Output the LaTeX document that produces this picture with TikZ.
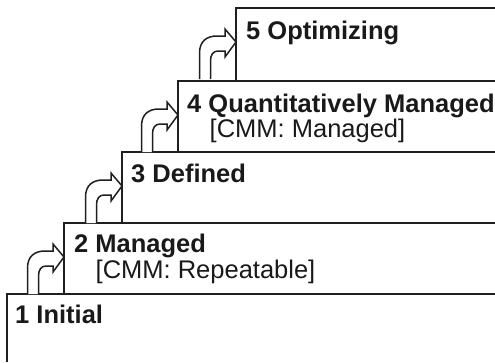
\documentclass[tikz,border=0pt]{standalone}
\usepackage{fontspec}
\setmainfont{Liberation Sans}
\begin{document}
\begin{tikzpicture}[x=1pt,y=-1pt,
  boxline/.style={line width=2.2pt, draw=black!88, line cap=butt},
  arrowline/.style={line width=1.5pt, draw=black!88, fill=white, line join=miter},
  title/.style={anchor=base west, inner sep=0pt, font=\fontsize{25.5}{30}\selectfont\bfseries, text=black!90},
  sub/.style={anchor=base west, inner sep=0pt, font=\fontsize{25.5}{30}\selectfont, text=black!90}]
\useasboundingbox (0,0) rectangle (495,362);
% box corners
\coordinate (b1) at (7,294);
\coordinate (b2) at (64,223);
\coordinate (b3) at (122,152);
\coordinate (b4) at (178,81);
\coordinate (b5) at (236,8);
% boxes
\draw[boxline] (7,362) -- (b1) -- (500,294);
\draw[boxline] (64,294) -- (b2) -- (500,223);
\draw[boxline] (122,223) -- (b3) -- (500,152);
\draw[boxline] (178,152) -- (b4) -- (500,81);
\draw[boxline] (236,81) -- (b5) -- (500,8);
% bent arrows
\foreach \L/\T in {64/223, 122/152, 178/81, 236/8}{
  \draw[arrowline, shift={(\L,\T)}]
    (-36.5,71) -- (-36.5,45) .. controls (-36.5,33) and (-29,28) .. (-19,28)
    -- (-11,28) -- (-11,21) -- (0,34) -- (-11,49) -- (-11,43) -- (-18,43)
    .. controls (-23,43) and (-25.5,47) .. (-25.5,53) -- (-25.5,71);
}
% texts
\node[title] (t1) at (15,323) {1 Initial};
\node[title] (t2) at (74,252) {2 Managed};
\node[sub]   (s2) at (95.5,278) {[CMM: Repeatable]};
\node[title] (t3) at (131,182) {3 Defined};
\node[title] (t4) at (187,112) {4 Quantitatively Managed};
\node[sub]   (s4) at (209.5,137) {[CMM: Managed]};
\node[title] (t5) at (246,39) {5 Optimizing};
\end{tikzpicture}
\end{document}
